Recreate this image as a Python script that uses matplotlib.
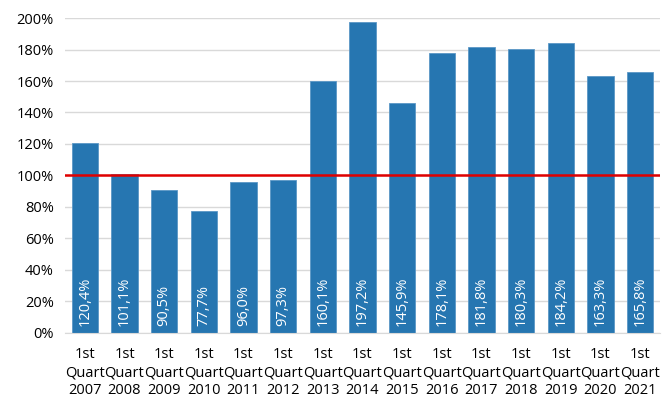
import matplotlib
matplotlib.use("Agg")
import matplotlib.pyplot as plt

years = ["2007", "2008", "2009", "2010", "2011", "2012", "2013", "2014",
         "2015", "2016", "2017", "2018", "2019", "2020", "2021"]
values = [120.4, 101.1, 90.5, 77.7, 96.0, 97.3, 160.1, 197.2,
          145.9, 178.1, 181.8, 180.3, 184.2, 163.3, 165.8]
labels = ["1st\nQuart\n" + y for y in years]
yticks = [0, 20, 40, 60, 80, 100, 120, 140, 160, 180, 200]

plt.rcParams['font.family'] = ['Open Sans', 'DejaVu Sans']

fig = plt.figure(figsize=(6.7, 4.01), dpi=100)
ax = fig.add_axes([0.097, 0.170, 0.888, 0.785])
x = list(range(len(values)))
ax.bar(x, values, width=0.66, color="#2676b1", edgecolor="#5b97c6",
       linewidth=0.6, zorder=2)
ax.axhline(100, color="#e00000", lw=1.8, zorder=3)
for xi, v in zip(x, values):
    ax.text(xi, 4.5, f"{v:.1f}%".replace(".", ","), rotation=90, ha="center",
            va="bottom", color="white", fontsize=10.5, zorder=4)
ax.set_xlim(-0.5, len(values) - 0.5)
ax.set_ylim(0, 200)
ax.set_yticks(yticks)
ax.set_yticklabels([f"{t}%" for t in yticks], fontsize=10.5)
ax.set_xticks(x)
ax.set_xticklabels(labels, fontsize=10.5, linespacing=1.3)
ax.yaxis.grid(True, color="#d9d9d9", lw=1, zorder=0)
ax.tick_params(length=0, pad=8)
ax.tick_params(axis='x', pad=10)
for s in ["top", "right", "left"]:
    ax.spines[s].set_visible(False)
ax.spines["bottom"].set_color("#d9d9d9")
fig.savefig("out.png", dpi=100)
